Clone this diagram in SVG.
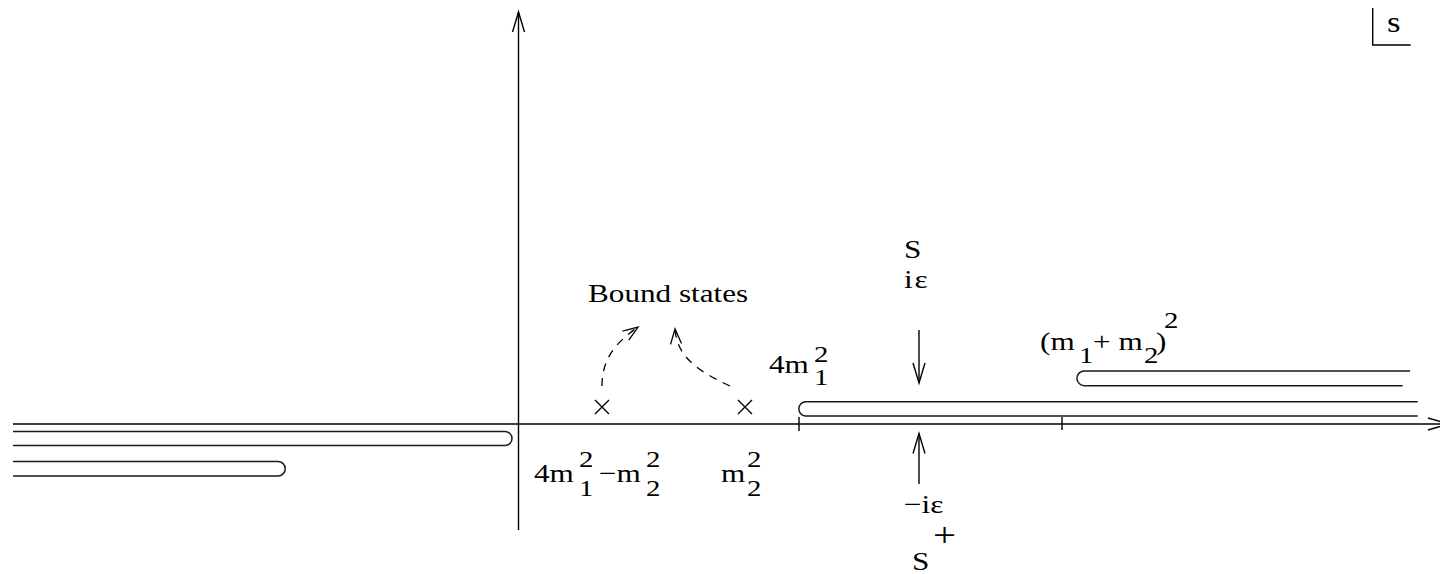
<svg xmlns="http://www.w3.org/2000/svg" width="1440" height="574" viewBox="0 0 1440 574">
<style>
.ln{fill:none;stroke:#000;stroke-width:1.4}
.cut{fill:none;stroke:#1a1a1a;stroke-width:1.5}
.dash{fill:none;stroke:#000;stroke-width:1.3;stroke-dasharray:8,7}
.t{font-family:"Liberation Serif","Times New Roman",serif;font-size:26px;fill:#000}
.sc{font-size:24px}
</style>
<defs>
<marker id="ah" markerUnits="userSpaceOnUse" markerWidth="30" markerHeight="20" viewBox="-22 -10 24 20" refX="0" refY="0" orient="auto">
<path d="M-20,-6 L0,0 L-20,6" fill="none" stroke="#000" stroke-width="1.4"/>
</marker>
<marker id="ahd" markerUnits="userSpaceOnUse" markerWidth="24" markerHeight="16" viewBox="-18 -8 20 16" refX="0" refY="0" orient="auto">
<path d="M-15,-5.5 L0,0 L-15,5.5" fill="none" stroke="#000" stroke-width="1.3"/>
</marker>
</defs>
<rect width="1440" height="574" fill="#fff"/>

<g id="axes">
<path class="ln" d="M13,424 H1448" marker-end="url(#ah)"/>
<path class="ln" d="M518.5,530 V12" marker-end="url(#ah)"/>
<path class="ln" d="M799,417 V431"/>
<path class="ln" d="M1062,417 V430"/>
</g>

<g id="cuts">
<path class="cut" d="M13,431.5 H505 A7,7 0 0 1 505,445.5 H13"/>
<path class="cut" d="M13,461.5 H278 A7.2,7.2 0 0 1 278,476 H13"/>
<path class="cut" d="M1417.7,401.7 H805.2 A7.2,7.2 0 0 0 805.2,416 H1417.7"/>
<path class="cut" d="M1410,371 H1084.3 A7.3,7.3 0 0 0 1084.3,385.7 H1402.7"/>
</g>

<g id="s-box">
<path class="ln" d="M1372.7,8 V45 H1410.7"/>
<text class="t" transform="translate(1387,32) scale(1.2,1)" style="font-size:29px">s</text>
</g>

<g id="poles">
<path class="ln" d="M595,400 L609,414 M609,400 L595,414"/>
<path class="ln" d="M738,400 L752,414 M752,400 L738,414"/>
</g>

<g id="connectors">
<path class="dash" d="M602,386 C602,362 612,345 638,327" marker-end="url(#ahd)"/>
<path class="dash" d="M730,386 C700,372 677,358 675,329" marker-end="url(#ahd)"/>
<path class="ln" d="M919,330 V383" marker-end="url(#ah)"/>
<path class="ln" d="M919,484 V433.5" marker-end="url(#ah)"/>
</g>

<g id="bound-states">
<text class="t" transform="translate(588,302) scale(1.2,1)">Bound states</text>
</g>

<g id="label-S">
<text class="t" transform="translate(904,258) scale(1.2,1)">S</text>
<text class="t" transform="translate(904,288) scale(1.2,1)" style="word-spacing:-5px">i ε</text>
</g>

<g id="label-Splus">
<text class="t" transform="translate(904,513) scale(1.2,1)">−iε</text>
<text class="t" transform="translate(912,570) scale(1.2,1)">S</text>
<text class="t" transform="translate(933,546) scale(1.2,1)" style="font-size:34px">+</text>
</g>

<g id="label-4m1sq">
<text class="t" transform="translate(769,373) scale(1.2,1)">4m</text>
<text class="t sc" transform="translate(814,362) scale(1.2,1)">2</text>
<text class="t sc" transform="translate(814,385) scale(1.2,1)">1</text>
</g>

<g id="label-m1m2sq">
<text class="t" transform="translate(1040,350) scale(1.2,1)">(m</text>
<text class="t sc" transform="translate(1079,363) scale(1.2,1)">1</text>
<text class="t" transform="translate(1093,350) scale(1.2,1)">+ m</text>
<text class="t sc" transform="translate(1144,363) scale(1.2,1)">2</text>
<text class="t" transform="translate(1156,350) scale(1.2,1)">)</text>
<text class="t sc" transform="translate(1164,328) scale(1.2,1)">2</text>
</g>

<g id="label-4m1sq-m2sq">
<text class="t" transform="translate(534,482) scale(1.2,1)">4m</text>
<text class="t sc" transform="translate(579,467) scale(1.2,1)">2</text>
<text class="t sc" transform="translate(579,496) scale(1.2,1)">1</text>
<text class="t" transform="translate(599,482) scale(1.2,1)">−m</text>
<text class="t sc" transform="translate(646,467) scale(1.2,1)">2</text>
<text class="t sc" transform="translate(646,496) scale(1.2,1)">2</text>
</g>

<g id="label-m2sq">
<text class="t" transform="translate(721,482) scale(1.2,1)">m</text>
<text class="t sc" transform="translate(747,467) scale(1.2,1)">2</text>
<text class="t sc" transform="translate(747,496) scale(1.2,1)">2</text>
</g>
</svg>
